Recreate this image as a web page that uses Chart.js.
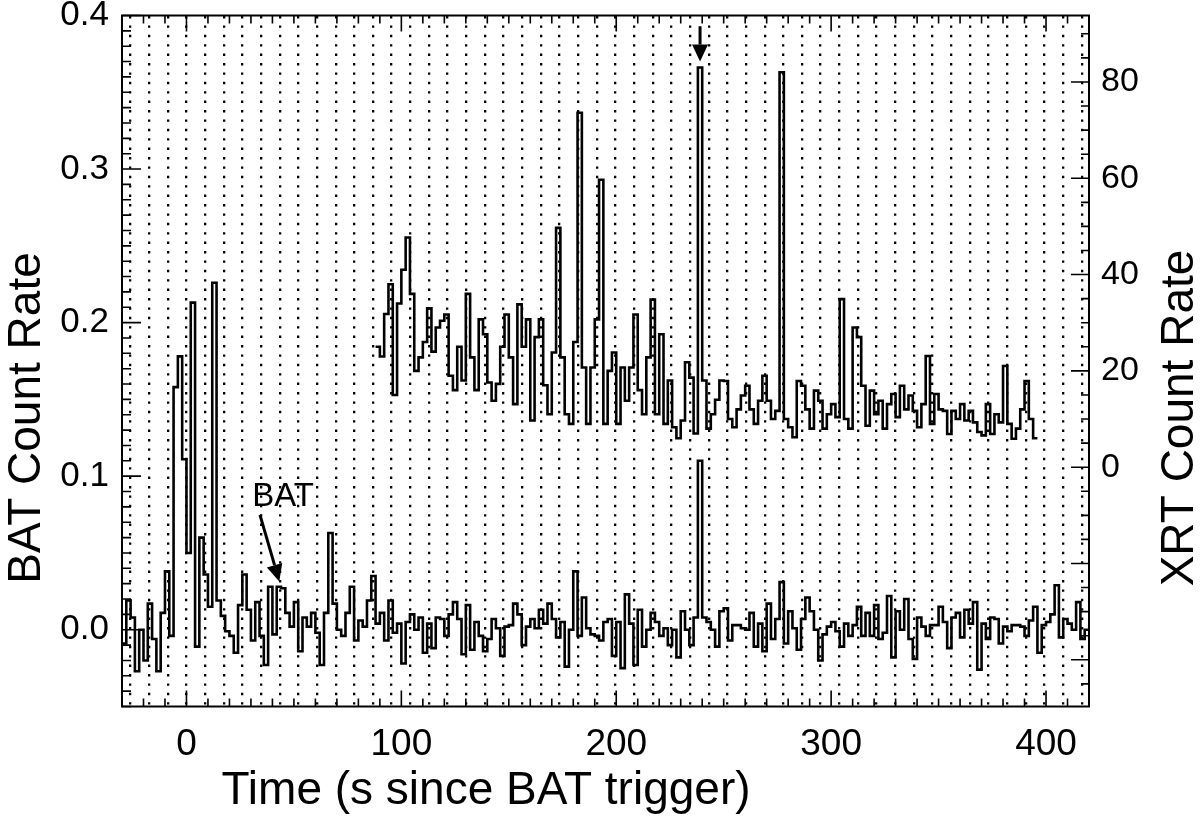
<!DOCTYPE html>
<html>
<head>
<meta charset="utf-8">
<title>BAT and XRT count rates</title>
<script src="https://cdn.jsdelivr.net/npm/chart.js@4.4.1/dist/chart.umd.min.js"></script>
<style>
  html, body { margin: 0; padding: 0; background: #fff; }
  canvas { display: block; }
</style>
</head>
<body>
<canvas id="Chart" width="1201" height="825"></canvas>
<script>
// BAT light curve: 2 s bins, first bin starts at -30 s
const batStart = -30;
const batBin = 2;
const batRate = [
  -0.009, 0.019, 0.008, -0.027, 0.000, -0.020, 0.017, -0.006, -0.027, 0.011,
  0.038, -0.004, 0.158, 0.178, 0.111, 0.050, 0.213, -0.011, 0.060, 0.036,
  0.015, 0.226, 0.019, 0.009, -0.001, -0.004, -0.015, 0.016, 0.036, 0.013,
  -0.007, 0.018, -0.004, -0.023, 0.028, -0.003, 0.028, 0.027, 0.011, 0.002,
  0.018, -0.014, 0.008, 0.002, 0.011, -0.002, -0.023, 0.011, 0.063, 0.017,
  0.000, -0.004, 0.011, 0.028, -0.007, 0.006, 0.002, 0.019, 0.035, 0.004,
  0.011, -0.007, 0.019, -0.002, 0.004, -0.022, 0.005, 0.010, 0.000, 0.008,
  -0.015, 0.004, -0.012, 0.008, 0.007, -0.004, 0.010, 0.018, 0.007, -0.016,
  0.016, -0.013, 0.005, -0.004, -0.014, -0.006, 0.007, 0.001, -0.017, 0.002,
  0.003, 0.017, 0.010, -0.010, 0.002, 0.007, 0.001, 0.013, 0.004, 0.017,
  0.007, -0.005, 0.005, -0.024, 0.000, 0.038, -0.004, 0.021, 0.001, -0.003,
  -0.004, -0.007, 0.005, 0.007, -0.017, 0.005, -0.025, 0.023, 0.004, -0.023,
  0.013, -0.011, 0.000, 0.011, 0.005, -0.004, 0.001, -0.010, 0.000, -0.018,
  0.012, 0.000, -0.010, 0.008, 0.110, 0.008, 0.005, 0.000, -0.011, 0.012,
  0.014, -0.007, 0.003, 0.003, 0.001, 0.000, 0.011, -0.011, 0.004, -0.014,
  0.017, -0.006, 0.007, 0.031, -0.009, 0.012, 0.001, -0.013, 0.007, 0.021,
  0.012, 0.000, -0.020, -0.003, 0.002, 0.005, -0.001, -0.011, 0.004, -0.004,
  0.003, 0.015, -0.004, 0.011, -0.004, 0.016, -0.006, -0.002, 0.022, -0.018,
  0.012, 0.000, 0.020, -0.006, -0.019, 0.008, 0.002, -0.004, 0.003, 0.003,
  0.015, 0.005, -0.012, 0.008, 0.011, -0.005, 0.013, 0.004, 0.018, -0.026,
  0.004, -0.006, 0.008, 0.007, -0.009, 0.002, -0.001, 0.003, 0.003, 0.002,
  -0.004, 0.006, 0.015, -0.015, 0.003, 0.005, 0.010, 0.029, -0.005, 0.007,
  0.004, 0.000, 0.018, -0.006, 0.000
];

// XRT light curve: 2 s bins, first bin starts at 88 s
const xrtStart = 88;
const xrtBin = 2;
const xrtRate = [
  25, 23, 31.8, 38, 15, 34, 41, 47.7, 36, 20,
  22.8, 26, 33, 24, 29, 30.4, 31.7, 19, 16, 25,
  18, 36, 22.8, 16, 30.7, 27.6, 17.6, 13.8, 17.3, 25,
  31.7, 22.8, 13.1, 33.8, 25, 30.7, 9.7, 27, 30.7, 17,
  11, 23.8, 49.7, 22.8, 11, 9, 26, 73.6, 20.7, 9,
  20.7, 30.7, 59.7, 9, 20, 23.8, 9, 20.7, 13.8, 20.7,
  31.7, 16, 11, 22.8, 34.8, 11, 27.6, 9, 18, 8.3,
  6, 9.7, 21.8, 18.6, 7, 83, 18, 8, 11, 14,
  18, 17.9, 10, 8.3, 12, 14.9, 16.9, 12, 9, 13.8,
  19, 13.8, 10, 11.7, 82, 10, 8.3, 6.2, 17.9, 16.9,
  12, 8, 15.9, 13.8, 8, 11, 13.1, 10.4, 34.9, 10,
  8, 29, 27, 16.9, 8.6, 15.9, 11, 13.8, 8, 13.1,
  15.2, 10.4, 16.9, 12, 14.9, 11.7, 8.3, 13.1, 23.1, 9,
  15.2, 12, 11.7, 6.9, 11.7, 10, 13.1, 9.7, 11.7, 9.3,
  7.3, 6.6, 13.1, 6.9, 11, 9.3, 21, 9, 5.9, 8,
  12, 17.9, 10, 6
];

const timeTicks = [0, 100, 200, 300, 400];
const batTicks = [0, 0.1, 0.2, 0.3, 0.4];
const xrtTicks = [0, 20, 40, 60, 80];

// annotations, in data units of the time / BAT axes
const batLabel = { text: 'BAT', x: 45, y: 0.0865 };
const arrows = [
  { x0: 34.2, y0: 0.0748, x1: 43.2, y1: 0.0314 },
  { x0: 239, y0: 0.393, x1: 239, y1: 0.370 }
];

const FONT = 'Liberation Sans, Arial, Helvetica, sans-serif';
const DOT_STEP = 8.68;

// histogram points: each value held over its bin, plus closing edge
const toSteps = (start, bin, rates) => {
  const pts = rates.map((v, i) => ({ x: start + i * bin, y: v }));
  pts.push({ x: start + rates.length * bin, y: rates[rates.length - 1] });
  return pts;
};

const drawArrow = (ctx, x0, y0, x1, y1) => {
  const ang = Math.atan2(y1 - y0, x1 - x0);
  const head = 17, half = 8;
  const bx = x1 - head * Math.cos(ang), by = y1 - head * Math.sin(ang);
  ctx.lineWidth = 3;
  ctx.beginPath();
  ctx.moveTo(x0, y0);
  ctx.lineTo(bx, by);
  ctx.stroke();
  ctx.beginPath();
  ctx.moveTo(x1, y1);
  ctx.lineTo(bx + half * Math.sin(ang), by - half * Math.cos(ang));
  ctx.lineTo(bx - half * Math.sin(ang), by + half * Math.cos(ang));
  ctx.closePath();
  ctx.fill();
};

const drawTitle = (ctx, text, x, y, rot) => {
  ctx.save();
  ctx.translate(x, y);
  ctx.rotate(rot);
  ctx.fillText(text, 0, 0);
  ctx.restore();
};

// frame, inward ticks, titles and annotations
const framePlugin = {
  id: 'frame',
  afterDatasetsDraw(chart) {
    const { ctx, chartArea: a, scales } = chart;
    const { x, y, y2 } = scales;
    ctx.save();
    ctx.strokeStyle = '#000';
    ctx.fillStyle = '#000';
    ctx.lineWidth = 2;
    ctx.strokeRect(a.left, a.top, a.right - a.left, a.bottom - a.top);

    ctx.lineWidth = 1.6;
    ctx.beginPath();
    for (let k = -3; k <= 42; k++) {
      const px = x.getPixelForValue(k * 10);
      const len = k % 10 === 0 ? 16 : 8;
      ctx.moveTo(px, a.bottom); ctx.lineTo(px, a.bottom - len);
      ctx.moveTo(px, a.top); ctx.lineTo(px, a.top + len);
    }
    for (let k = -5; k <= 40; k++) {
      const py = y.getPixelForValue(k / 100);
      const len = k % 10 === 0 ? 19 : 9;
      ctx.moveTo(a.left, py); ctx.lineTo(a.left + len, py);
    }
    for (let k = -9; k <= 18; k++) {
      const py = y2.getPixelForValue(k * 5);
      const len = k % 4 === 0 ? 18 : 8;
      ctx.moveTo(a.right, py); ctx.lineTo(a.right - len, py);
    }
    ctx.stroke();

    arrows.forEach(r => drawArrow(ctx,
      x.getPixelForValue(r.x0), y.getPixelForValue(r.y0),
      x.getPixelForValue(r.x1), y.getPixelForValue(r.y1)));

    ctx.textAlign = 'center';
    ctx.textBaseline = 'middle';
    ctx.font = '33px ' + FONT;
    ctx.fillText(batLabel.text, x.getPixelForValue(batLabel.x), y.getPixelForValue(batLabel.y));

    ctx.font = '46px ' + FONT;
    drawTitle(ctx, 'BAT Count Rate', 27, 418, -Math.PI / 2);
    drawTitle(ctx, 'XRT Count Rate', 1180, 418, -Math.PI / 2);
    drawTitle(ctx, 'Time (s since BAT trigger)', 486, 791, 0);
    ctx.restore();
  }
};

const noPadY = s => { s.paddingTop = 0; s.paddingBottom = 0; };
const noPadX = s => { s.paddingLeft = 0; s.paddingRight = 0; };

const leftFont = { family: FONT, size: 35 };
const bottomFont = { family: FONT, size: 37 };
const rightFont = { family: FONT, size: 34 };

const canvas = document.getElementById('Chart');
const ctx = canvas.getContext('2d');

const myChart = new Chart(ctx, {
  type: 'line',
  data: {
    datasets: [{
      label: 'BAT',
      data: toSteps(batStart, batBin, batRate),
      xAxisID: 'x',
      yAxisID: 'y',
      stepped: true,
      borderColor: '#000',
      borderWidth: 2.6,
      pointRadius: 0,
      fill: false
    }, {
      label: 'XRT',
      data: toSteps(xrtStart, xrtBin, xrtRate),
      xAxisID: 'x',
      yAxisID: 'y2',
      stepped: true,
      borderColor: '#000',
      borderWidth: 2.6,
      pointRadius: 0,
      fill: false
    }]
  },
  options: {
    responsive: false,
    devicePixelRatio: 1,
    animation: false,
    events: [],
    layout: { padding: { top: 15.5, left: 0, right: 0, bottom: 0 } },
    plugins: { legend: { display: false }, tooltip: { enabled: false } },
    scales: {
      x: {
        type: 'linear', position: 'bottom', min: -30, max: 420,
        afterBuildTicks: s => { s.ticks = timeTicks.map(v => ({ value: v })); },
        afterFit: s => { s.height = 118.5; noPadX(s); },
        ticks: { color: '#000', font: bottomFont, padding: 8, maxRotation: 0, autoSkip: false },
        grid: { display: false },
        border: { display: false }
      },
      xDots: {
        type: 'linear', position: 'top', min: -30, max: 420,
        afterBuildTicks: s => {
          const t = [];
          for (let k = -3; k <= 48; k++) t.push({ value: k * DOT_STEP });
          s.ticks = t;
        },
        afterFit: s => { s.height = 0; noPadX(s); },
        ticks: { display: false },
        grid: { display: true, drawTicks: false, color: '#000', lineWidth: 2.3 },
        border: { display: false, dash: [2.4, 7] }
      },
      y: {
        type: 'linear', position: 'left', min: -0.05, max: 0.4,
        afterBuildTicks: s => { s.ticks = batTicks.map(v => ({ value: v })); },
        afterFit: s => { s.width = 122; noPadY(s); },
        ticks: { color: '#000', font: leftFont, padding: 5, callback: v => v.toFixed(1) },
        grid: { display: false },
        border: { display: false }
      },
      y2: {
        type: 'linear', position: 'right', min: -49.7, max: 93.8,
        afterBuildTicks: s => { s.ticks = xrtTicks.map(v => ({ value: v })); },
        afterFit: s => { s.width = 112; noPadY(s); },
        ticks: { color: '#000', font: rightFont, padding: 4, callback: v => String(v) },
        grid: { display: false },
        border: { display: false }
      }
    }
  },
  plugins: [framePlugin]
});
</script>
</body>
</html>
